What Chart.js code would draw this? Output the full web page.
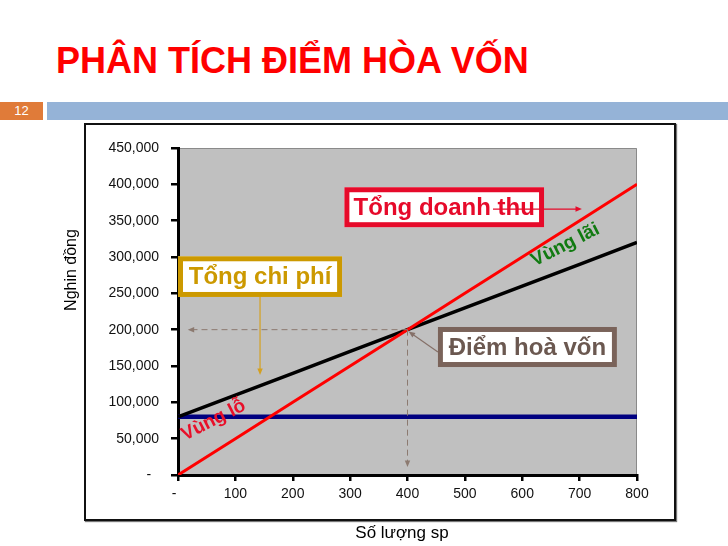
<!DOCTYPE html>
<html>
<head>
<meta charset="utf-8">
<script src="https://cdn.jsdelivr.net/npm/chart.js@4/dist/chart.umd.min.js"></script>
<style>
  body { margin: 0; background: #fff; width: 728px; height: 546px; overflow: hidden; position: relative; font-family: 'Liberation Sans', Arial, sans-serif; }
  .title { position: absolute; left: 56px; top: 43px; font-size: 36px; line-height: 36px; font-weight: bold; color: #ff0000; white-space: nowrap; }
  .num { position: absolute; left: 0; top: 102px; width: 43px; height: 18px; background: #E07B39; color: #fff; font-size: 13px; line-height: 18px; text-align: center; }
  .bar { position: absolute; left: 47px; top: 102px; width: 681px; height: 18px; background: #95B3D7; }
  .frame { position: absolute; left: 84px; top: 123px; width: 592px; height: 398px; border: 2px solid #111; box-sizing: border-box; box-shadow: 1px 1px 1px #777; }
  canvas { position: absolute; left: 0; top: 0; }
</style>
</head>
<body>
<div class="title">PHÂN TÍCH ĐIỂM HÒA VỐN</div>
<div class="num">12</div>
<div class="bar"></div>
<div class="frame"></div>
<canvas id="c" width="728" height="546"></canvas>
<script>
// số lượng sản phẩm (trục x)
const quantities = [0, 100, 200, 300, 400, 500, 600, 700, 800];
// chi phí cố định
const fixedCost = [80000, 80000, 80000, 80000, 80000, 80000, 80000, 80000, 80000];
// tổng chi phí
const totalCost = [80000, 110000, 140000, 170000, 200000, 230000, 260000, 290000, 320000];
// tổng doanh thu
const revenue = [0, 50000, 100000, 150000, 200000, 250000, 300000, 350000, 400000];
// điểm hoà vốn
const breakEven = { x: 400, y: 200000 };

const FONT = "'Liberation Sans', Arial, sans-serif";

function pts(values) {
  return quantities.map((q, i) => ({ x: q, y: values[i] }));
}

function arrow(ctx, x1, y1, x2, y2, color, width, dash) {
  const ang = Math.atan2(y2 - y1, x2 - x1);
  const head = 7;
  ctx.save();
  ctx.strokeStyle = color;
  ctx.fillStyle = color;
  ctx.lineWidth = width;
  ctx.setLineDash(dash || []);
  ctx.beginPath();
  ctx.moveTo(x1, y1);
  ctx.lineTo(x2 - Math.cos(ang) * head * 0.8, y2 - Math.sin(ang) * head * 0.8);
  ctx.stroke();
  ctx.setLineDash([]);
  ctx.beginPath();
  ctx.moveTo(x2, y2);
  ctx.lineTo(x2 - head * Math.cos(ang - 0.4), y2 - head * Math.sin(ang - 0.4));
  ctx.lineTo(x2 - head * Math.cos(ang + 0.4), y2 - head * Math.sin(ang + 0.4));
  ctx.closePath();
  ctx.fill();
  ctx.restore();
}

function labelBox(ctx, x1, y1, x2, y2, text, border, color) {
  ctx.save();
  ctx.fillStyle = '#fff';
  ctx.fillRect(x1, y1, x2 - x1, y2 - y1);
  ctx.strokeStyle = border;
  ctx.lineWidth = 5;
  ctx.strokeRect(x1 + 2.5, y1 + 2.5, x2 - x1 - 5, y2 - y1 - 5);
  ctx.fillStyle = color;
  ctx.font = 'bold 24px ' + FONT;
  ctx.textAlign = 'center';
  ctx.textBaseline = 'middle';
  ctx.fillText(text, (x1 + x2) / 2, (y1 + y2) / 2 + 1);
  ctx.restore();
}

function slantText(ctx, x, y, text, color) {
  ctx.save();
  ctx.translate(x, y);
  ctx.rotate(-27 * Math.PI / 180);
  ctx.fillStyle = color;
  ctx.font = 'bold 19px ' + FONT;
  ctx.textAlign = 'left';
  ctx.textBaseline = 'alphabetic';
  ctx.fillText(text, 0, 0);
  ctx.restore();
}

const overlay = {
  id: 'overlay',
  beforeDraw(chart) {
    const { ctx, chartArea: a } = chart;
    ctx.save();
    ctx.fillStyle = '#C0C0C0';
    ctx.fillRect(a.left, a.top, a.right - a.left, a.bottom - a.top);
    ctx.strokeStyle = '#8a8a8a';
    ctx.lineWidth = 1;
    ctx.beginPath();
    ctx.moveTo(a.left, a.top + 0.5);
    ctx.lineTo(a.right - 0.5, a.top + 0.5);
    ctx.lineTo(a.right - 0.5, a.bottom);
    ctx.stroke();
    ctx.restore();
  },
  afterDatasetsDraw(chart) {
    const ctx = chart.ctx;
    const sx = chart.scales.x, sy = chart.scales.y;
    const X = v => sx.getPixelForValue(v);
    const Y = v => sy.getPixelForValue(v);
    const bx = X(breakEven.x), by = Y(breakEven.y);

    // đường gióng nét đứt từ điểm hoà vốn
    arrow(ctx, bx, by, X(17), by, '#8C7A70', 1, [6, 4]);
    arrow(ctx, bx, by, bx, Y(11000), '#8C7A70', 1, [6, 4]);

    // Tổng doanh thu
    labelBox(ctx, X(290), Y(396000), X(638), Y(341000), 'Tổng doanh thu', '#E60A2A', '#E60A2A');
    arrow(ctx, X(549), Y(366000), X(704), Y(366000), '#E60A2A', 1.2);

    // Tổng chi phí
    labelBox(ctx, X(0), Y(301000), X(286), Y(245000), 'Tổng chi phí', '#CC9900', '#CC9900');
    arrow(ctx, X(143), Y(245000), X(143), Y(137600), '#D4A020', 1.2);

    // Điểm hoà vốn
    labelBox(ctx, X(453), Y(203700), X(765), Y(148600), 'Điểm hoà vốn', '#7A635A', '#6B5850');
    arrow(ctx, X(453), Y(169300), X(402), Y(197500), '#857068', 1.2);

    slantText(ctx, X(12), Y(47000), 'Vùng lỗ', '#E8102A');
    slantText(ctx, X(622), Y(287000), 'Vùng lãi', '#117A11');
  },
  afterDraw(chart) {
    const ctx = chart.ctx;
    ctx.save();
    ctx.fillStyle = '#000';
    ctx.font = '17px ' + FONT;
    ctx.textAlign = 'center';
    ctx.textBaseline = 'alphabetic';
    ctx.fillText('Số lượng sp', 402, 538);
    ctx.translate(76, 270);
    ctx.rotate(-Math.PI / 2);
    ctx.font = '16px ' + FONT;
    ctx.fillText('Nghin đồng', 0, 0);
    ctx.restore();
  }
};

new Chart(document.getElementById('c'), {
  type: 'line',
  data: {
    datasets: [
      { label: 'Tổng doanh thu', data: pts(revenue), borderColor: '#FF0000', borderWidth: 3 },
      { label: 'Tổng chi phí', data: pts(totalCost), borderColor: '#000000', borderWidth: 3.5 },
      { label: 'Chi phí cố định', data: pts(fixedCost), borderColor: '#000080', borderWidth: 4.5 }
    ]
  },
  options: {
    responsive: false,
    animation: false,
    devicePixelRatio: 1,
    elements: { point: { radius: 0 }, line: { tension: 0, borderCapStyle: 'butt' } },
    layout: { padding: { left: 0, top: 148, right: 91, bottom: 0 } },
    plugins: { legend: { display: false }, tooltip: { enabled: false } },
    scales: {
      x: {
        type: 'linear',
        min: 0,
        max: 800,
        afterFit: s => { s.height = 71; },
        border: { color: '#000', width: 3 },
        grid: { drawOnChartArea: false, color: '#000', lineWidth: 2.5, tickLength: 6 },
        ticks: {
          stepSize: 100,
          padding: 5,
          color: '#111',
          font: { family: FONT, size: 14 },
          maxRotation: 0,
          callback: v => v === 0 ? '-  ' : String(v)
        }
      },
      y: {
        min: 0,
        max: 450000,
        afterFit: s => { s.width = 178; },
        border: { color: '#000', width: 3 },
        grid: { drawOnChartArea: false, color: '#000', lineWidth: 2.5, tickLength: 7 },
        ticks: {
          stepSize: 50000,
          padding: 12,
          color: '#111',
          font: { family: FONT, size: 14 },
          callback: v => v === 0 ? '-  ' : v.toLocaleString('en-US')
        }
      }
    }
  },
  plugins: [overlay]
});
</script>
</body>
</html>
